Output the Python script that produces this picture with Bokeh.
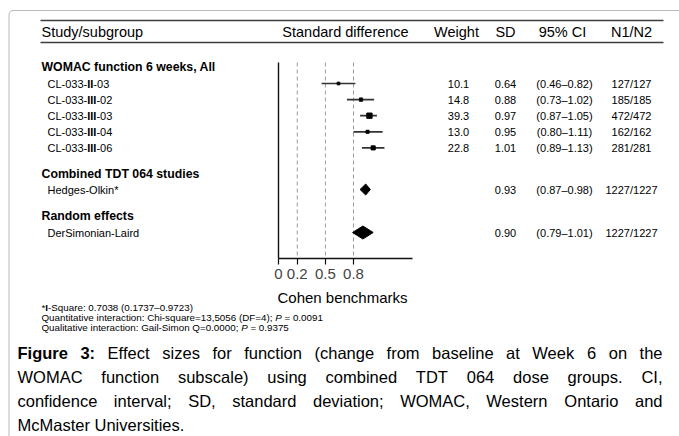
from bokeh.plotting import figure
from bokeh.models import Range1d, LinearAxis, FixedTicker
from bokeh.core.properties import value
from bokeh.embed import file_html
from bokeh.resources import INLINE

# ---------------- data ----------------
studies = ["CL-033-II-03", "CL-033-III-02", "CL-033-III-03", "CL-033-III-04", "CL-033-III-06"]
weights = [10.1, 14.8, 39.3, 13.0, 22.8]
std_diff = [0.64, 0.88, 0.97, 0.95, 1.01]
ci_lo = [0.46, 0.73, 0.87, 0.80, 0.89]
ci_hi = [0.82, 1.02, 1.05, 1.11, 1.13]
n1n2 = ["127/127", "185/185", "472/472", "162/162", "281/281"]

pooled_groups = ["Combined TDT 064 studies", "Random effects"]
pooled_names = ["Hedges-Olkin*", "DerSimonian-Laird"]
pooled_sd = [0.93, 0.90]
pooled_lo = [0.87, 0.79]
pooled_hi = [0.98, 1.01]
pooled_n = ["1227/1227", "1227/1227"]

benchmarks = [0.2, 0.5, 0.8]
x_ticks = [0, 0.2, 0.5, 0.8]
tick_labels = ["0", "0.2", "0.5", "0.8"]

headers = ["Study/subgroup", "Standard difference", "Weight", "SD", "95% CI", "N1/N2"]
group_title = "WOMAC function 6 weeks, All"
axis_title = "Cohen benchmarks"

footnotes = [
    [("*", "normal"), ("I", "bold"), ("-Square: 0.7038 (0.1737\u20130.9723)", "normal")],
    [("Quantitative interaction: Chi-square=13,5056 (DF=4); ", "normal"), ("P", "italic"), (" = 0.0091", "normal")],
    [("Qualitative interaction: Gail-Simon Q=0.0000; ", "normal"), ("P", "italic"), (" = 0.9375", "normal")],
]
caption_lines = [
    [("Figure 3:", "bold"), ("Effect sizes for function (change from baseline at Week 6 on the", "normal")],
    [("WOMAC function subscale) using combined TDT 064 dose groups. CI,", "normal")],
    [("confidence interval; SD, standard deviation; WOMAC, Western Ontario and", "normal")],
    [("McMaster Universities.", "normal")],
]

# ---------------- layout ----------------
W, H = 679, 436
X0_PX = 278.0        # canvas x of effect size 0
PX_PER_UNIT = 93.75
FONT = "Liberation Sans"

# Arial / Liberation Sans advance widths (per 1000 em)
REG = {' ': 278, '!': 278, '(': 333, ')': 333, '*': 389, ',': 278, '-': 333, '.': 278, '/': 278,
       ':': 278, ';': 278, '=': 584, '%': 889, '\u2013': 556,
       'A': 667, 'B': 667, 'C': 722, 'D': 722, 'E': 667, 'F': 611, 'G': 778, 'H': 722, 'I': 278,
       'J': 500, 'K': 667, 'L': 556, 'M': 833, 'N': 722, 'O': 778, 'P': 667, 'Q': 778, 'R': 722,
       'S': 667, 'T': 611, 'U': 722, 'V': 667, 'W': 944, 'X': 667, 'Y': 667, 'Z': 611,
       'a': 556, 'b': 556, 'c': 500, 'd': 556, 'e': 556, 'f': 278, 'g': 556, 'h': 556, 'i': 222,
       'j': 222, 'k': 500, 'l': 222, 'm': 833, 'n': 556, 'o': 556, 'p': 556, 'q': 556, 'r': 333,
       's': 500, 't': 278, 'u': 556, 'v': 500, 'w': 722, 'x': 500, 'y': 500, 'z': 500}
BOLD = dict(REG)
BOLD.update({'!': 333, ':': 333, ';': 333, 'A': 722, 'B': 722, 'L': 611, 'b': 611, 'c': 556,
             'd': 611, 'f': 333, 'g': 611, 'h': 611, 'i': 278, 'j': 278, 'k': 556, 'l': 278,
             'm': 889, 'n': 611, 'o': 611, 'p': 611, 'q': 611, 'r': 389, 's': 556, 't': 333,
             'u': 611, 'v': 556, 'w': 778, 'x': 556, 'y': 556})


def text_width(s, size, style="normal"):
    tab = BOLD if style == "bold" else REG
    return sum(tab.get(c, 556) for c in s) * size / 1000.0


p = figure(width=W, height=H, output_backend="svg", toolbar_location=None,
           x_range=Range1d(-X0_PX / PX_PER_UNIT, (W - X0_PX) / PX_PER_UNIT),
           y_range=Range1d(H, 0), x_axis_type=None, y_axis_type=None,
           min_border=0, outline_line_color=None)
p.extra_x_ranges = {"px": Range1d(0, W)}
p.background_fill_color = "white"
p.border_fill_color = "white"


def txt(x, y, s, size, style="normal", align="left", color="black"):
    p.text(x=[x], y=[y], text=[s], x_range_name="px", text_font=value(FONT),
           text_font_size=f"{size}px", text_font_style=style, text_align=align,
           text_baseline="middle", text_color=color)


def segs(x, y, parts, size):
    for s, st in parts:
        lead = len(s) - len(s.lstrip(" "))
        core = s.strip(" ")
        x0 = x + text_width(" " * lead, size, st)
        if core:
            txt(x0, y, core, size, st)
        x += text_width(s, size, st)


# outer rounded frame (top-left)
p.line(x=[8.5, 8.5, 9.2, 10.7, 12.5, W], y=[H, 14, 11.7, 10.5, 10, 10], x_range_name="px",
       line_color="#b8b8b8", line_width=1)

# header rules and titles
p.segment(x0=[40, 40], x1=[663, 663], y0=[20, 42], y1=[20, 42], x_range_name="px",
          line_color="#3c3c3c", line_width=1.6)
head_x = [41, 345, 456, 505, 562, 631]
head_al = ["left", "center", "center", "center", "center", "center"]
for hx, ht, ha in zip(head_x, headers, head_al):
    txt(hx, 31.5, ht, 14.5, "normal", ha)

# row positions
study_y = [83 + 16.1 * i for i in range(len(studies))]
group_y = [173, 215]
pooled_y = [189, 232]

txt(41, 66, group_title, 12.3, "bold")
for name, yy in zip(studies, study_y):
    a, b, c, d = name.split("-")
    segs(47, yy, [(a + "-" + b + "-", "normal"), (c, "bold"), ("-" + d, "normal")], 11)
for g, yy in zip(pooled_groups, group_y):
    txt(41, yy, g, 12.3, "bold")
for n, yy in zip(pooled_names, pooled_y):
    txt(47, yy, n, 11)

# value columns
VS = 11
for w, s, lo, hi, nn, yy in zip(weights, std_diff, ci_lo, ci_hi, n1n2, study_y):
    txt(458, yy, f"{w:.1f}", VS, align="center")
    txt(505, yy, f"{s:.2f}", VS, align="center")
    txt(564, yy, f"({lo:.2f}\u2013{hi:.2f})", VS, align="center")
    txt(631, yy, nn, VS, align="center")
for s, lo, hi, nn, yy in zip(pooled_sd, pooled_lo, pooled_hi, pooled_n, pooled_y):
    txt(505, yy, f"{s:.2f}", VS, align="center")
    txt(564, yy, f"({lo:.2f}\u2013{hi:.2f})", VS, align="center")
    txt(631, yy, nn, VS, align="center")

# forest panel
top, bot = 62, 258
p.segment(x0=benchmarks, x1=benchmarks, y0=[top] * 3, y1=[bot] * 3,
          line_color="#9a9a9a", line_width=1, line_dash="4 3")
p.segment(x0=[0], x1=[0], y0=[top], y1=[bot], line_color="#111111", line_width=1.4)
p.segment(x0=ci_lo, x1=ci_hi, y0=study_y, y1=study_y, line_color="#333333", line_width=1.7)
p.scatter(x=std_diff, y=study_y, marker="square", size=[w ** 0.5 * 0.85 for w in weights],
          color="black")
p.patches(xs=[[lo, e, hi, e] for lo, e, hi in zip(pooled_lo, pooled_sd, pooled_hi)],
          ys=[[yy, yy - h, yy, yy + h] for yy, h in zip(pooled_y, [5.5, 6.5])],
          color="black")

ax = LinearAxis(fixed_location=bot, bounds=(0, 1.43), ticker=FixedTicker(ticks=x_ticks),
                major_label_overrides={t: l for t, l in zip(x_ticks, tick_labels)},
                major_tick_out=6, major_tick_in=0, minor_tick_line_color=None,
                axis_line_color="#111111", axis_line_width=1.4,
                major_tick_line_color="#111111", major_tick_line_width=1.2,
                major_label_text_font=FONT, major_label_text_font_size="15px",
                major_label_standoff=4)
p.add_layout(ax, "below")
txt(342, 297, axis_title, 15, align="center")

# footnotes
for i, parts in enumerate(footnotes):
    segs(41, 306.5 + 10 * i, parts, 9.8)

# caption (justified)
CAP_L, CAP_R, CAP_SIZE = 17, 662, 16.5
for i, parts in enumerate(caption_lines):
    yy = 352 + 24 * i
    words = []
    for s, st in parts:
        words += [(w_, st) for w_ in s.split(" ")]
    widths = [text_width(w_, CAP_SIZE, st) for w_, st in words]
    if i < len(caption_lines) - 1:
        gap = (CAP_R - CAP_L - sum(widths)) / (len(words) - 1)
    else:
        gap = text_width(" ", CAP_SIZE)
    x = CAP_L
    for (w_, st), wd in zip(words, widths):
        txt(x, yy, w_, CAP_SIZE, st)
        x += wd + gap

open("out.html", "w").write(file_html(p, INLINE))
